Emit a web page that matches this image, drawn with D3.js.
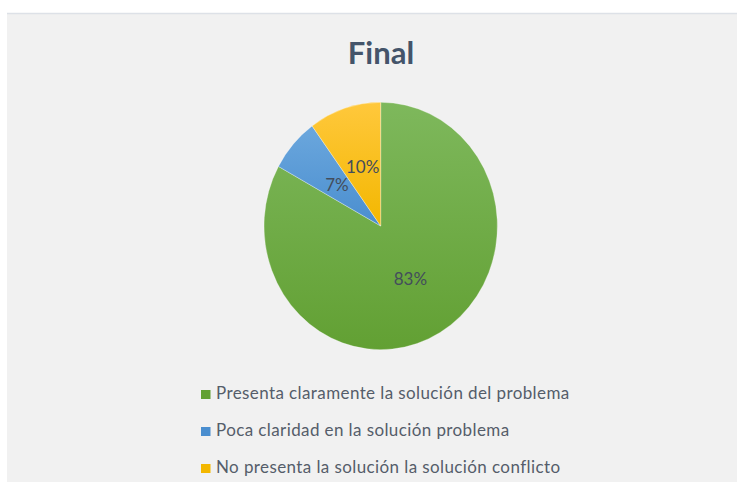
<!doctype html>
<html>
<head>
<meta charset="utf-8">
<script src="https://cdn.jsdelivr.net/npm/d3@7/dist/d3.min.js"></script>
<style>
  body { margin: 0; background: #fff; }
  svg { display: block; font-family: Lato, "Open Sans", sans-serif; }
</style>
</head>
<body>
<svg width="737" height="483"></svg>
<script>
// chart data
var categories = [
  "Presenta claramente la solución del problema",
  "Poca claridad en la solución problema",
  "No presenta la solución la solución conflicto"
];
var values = [83, 7, 10];
var colors = [
  ["#7eb85c", "#62a033"],
  ["#6ba7dd", "#4a8ecf"],
  ["#ffc83c", "#f3b700"]
];
var title = "Final";

var svg = d3.select("svg");

// panel background
svg.append("rect")
  .attr("x", 7).attr("y", 13)
  .attr("width", 730).attr("height", 469)
  .attr("fill", "#f1f1f1");
svg.append("line")
  .attr("x1", 7).attr("x2", 737)
  .attr("y1", 13.5).attr("y2", 13.5)
  .attr("stroke", "#dde1e7").attr("stroke-width", 1.5);

svg.append("text")
  .attr("x", 381).attr("y", 64)
  .attr("text-anchor", "middle")
  .attr("font-size", 31)
  .attr("font-weight", "bold")
  .attr("fill", "#44546a")
  .text(title);

var defs = svg.append("defs");
colors.forEach(function(c, i) {
  var g = defs.append("linearGradient")
    .attr("id", "grad" + i)
    .attr("x1", 0).attr("y1", 0).attr("x2", 0).attr("y2", 1);
  g.append("stop").attr("offset", "0%").attr("stop-color", c[0]);
  g.append("stop").attr("offset", "100%").attr("stop-color", c[1]);
});

var cx = 380.7, cy = 226, r = 116.7, yStretch = 1.06;
var total = d3.sum(values);

var pie = d3.pie().sort(null).value(function(d) { return d; });
var arc = d3.arc().innerRadius(0).outerRadius(r);
var arcs = pie(values);

var pieG = svg.append("g")
  .attr("transform", "translate(" + cx + "," + cy + ") scale(1," + yStretch + ")");

pieG.selectAll("path")
  .data(arcs)
  .enter().append("path")
  .attr("d", arc)
  .attr("fill", function(d, i) { return "url(#grad" + i + ")"; })
  .attr("stroke", "#ffffff")
  .attr("stroke-opacity", 0.5)
  .attr("stroke-width", 0.6);

svg.append("g")
  .attr("transform", "translate(" + cx + "," + cy + ")")
  .selectAll("text")
  .data(arcs)
  .enter().append("text")
  .attr("x", function(d) { return arc.centroid(d)[0]; })
  .attr("y", function(d) { return arc.centroid(d)[1] * yStretch; })
  .attr("dy", "0.35em")
  .attr("text-anchor", "middle")
  .attr("font-size", 17)
  .attr("fill", "#434d5c")
  .text(function(d) { return Math.round(d.value / total * 100) + "%"; });

// legend
var legend = svg.append("g").attr("transform", "translate(201,0)");
var rowY = d3.scalePoint().domain(d3.range(categories.length)).range([399, 473]);

var item = legend.selectAll("g")
  .data(categories)
  .enter().append("g")
  .attr("transform", function(d, i) { return "translate(0," + rowY(i) + ")"; });

item.append("rect")
  .attr("x", 0).attr("y", -9)
  .attr("width", 9.5).attr("height", 9)
  .attr("fill", function(d, i) { return colors[i][1]; });

item.append("text")
  .attr("x", 15).attr("y", 0)
  .attr("font-size", 17)
  .attr("letter-spacing", 0.4)
  .attr("fill", "#555d6a")
  .text(function(d) { return d; });
</script>
</body>
</html>
